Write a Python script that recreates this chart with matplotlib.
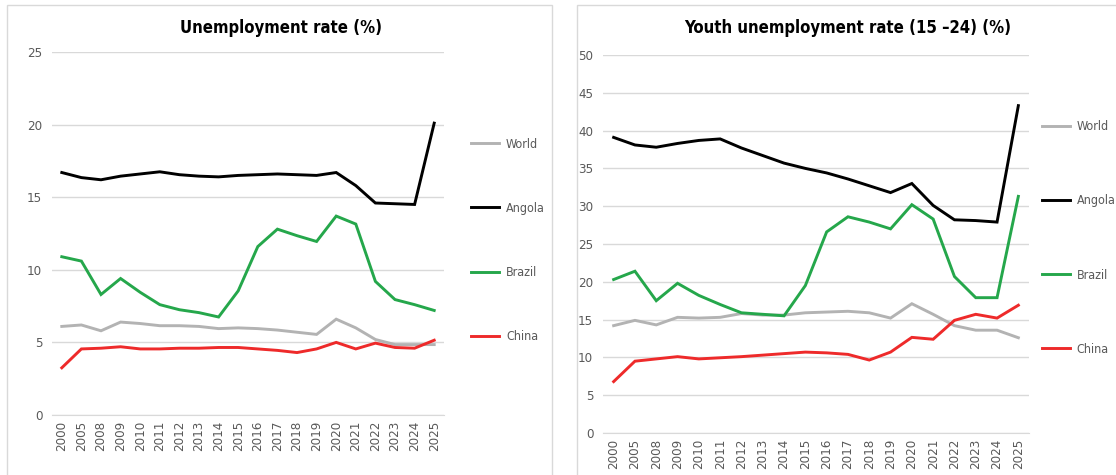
import matplotlib
matplotlib.use("Agg")
import matplotlib.pyplot as plt
from matplotlib.patches import Rectangle

plt.rcParams['font.family'] = ['DejaVu Sans']
plt.rcParams['font.stretch'] = 'condensed'

years = ['2000', '2005', '2008', '2009', '2010', '2011', '2012', '2013', '2014', '2015',
         '2016', '2017', '2018', '2019', '2020', '2021', '2022', '2023', '2024', '2025']

# Unemployment rate (%)
world = [6.1, 6.2, 5.8, 6.4, 6.3, 6.15, 6.15, 6.1, 5.95, 6.0,
         5.95, 5.85, 5.7, 5.55, 6.6, 6.0, 5.2, 4.85, 4.85, 4.85]
angola = [16.7, 16.35, 16.2, 16.45, 16.6, 16.75, 16.55, 16.45, 16.4, 16.5,
          16.55, 16.6, 16.55, 16.5, 16.7, 15.8, 14.6, 14.55, 14.5, 20.1]
brazil = [10.9, 10.6, 8.3, 9.4, 8.45, 7.6, 7.25, 7.05, 6.75, 8.55,
          11.6, 12.8, 12.35, 11.95, 13.7, 13.15, 9.2, 7.95, 7.6, 7.2]
china = [3.25, 4.55, 4.6, 4.7, 4.55, 4.55, 4.6, 4.6, 4.65, 4.65,
         4.55, 4.45, 4.3, 4.55, 5.0, 4.55, 4.95, 4.65, 4.6, 5.15]

# Youth unemployment rate (15-24) (%)
world_y = [14.2, 14.9, 14.3, 15.3, 15.2, 15.3, 15.8, 15.6, 15.6, 15.9,
           16.0, 16.1, 15.9, 15.2, 17.1, 15.7, 14.2, 13.6, 13.6, 12.6]
angola_y = [39.1, 38.1, 37.8, 38.3, 38.7, 38.9, 37.7, 36.7, 35.7, 35.0,
            34.4, 33.6, 32.7, 31.8, 33.0, 30.1, 28.2, 28.1, 27.9, 43.3]
brazil_y = [20.3, 21.4, 17.5, 19.8, 18.2, 17.0, 15.9, 15.7, 15.5, 19.5,
            26.6, 28.6, 27.9, 27.0, 30.2, 28.3, 20.7, 17.9, 17.9, 31.3]
china_y = [6.8, 9.5, 9.8, 10.1, 9.8, 9.95, 10.1, 10.3, 10.5, 10.7,
           10.6, 10.4, 9.65, 10.7, 12.65, 12.4, 14.9, 15.7, 15.2, 16.9]

names = ['World', 'Angola', 'Brazil', 'China']
colors = ['#b3b3b3', '#000000', '#25a74b', '#ee2a2a']

W, H = 1116, 475
fig = plt.figure(figsize=(W / 100, H / 100), dpi=100)

# cadres des deux panneaux
fig.patches.append(Rectangle((7 / W, -0.01), 545 / W, 1 - 5 / H + 0.01, transform=fig.transFigure,
                             fill=False, edgecolor='#d9d9d9', linewidth=1))
fig.patches.append(Rectangle((577 / W, -0.01), 560 / W, 1 - 5 / H + 0.01, transform=fig.transFigure,
                             fill=False, edgecolor='#d9d9d9', linewidth=1))


def panel(rect, series, ymax, title, title_x, leg_anchor, spacing):
    ax = fig.add_axes(rect)
    x = range(len(years))
    handles = []
    for vals, c in zip(series, colors):
        h, = ax.plot(x, vals, color=c, lw=2.1, solid_joinstyle='miter')
        handles.append(h)
    ax.set_xlim(-0.5, len(years) - 0.5)
    ax.set_ylim(0, ymax)
    ax.set_yticks(range(0, ymax + 1, 5))
    ax.set_xticks(list(x))
    ax.set_xticklabels(years, rotation=90)
    ax.tick_params(axis='both', length=0, labelsize=9.5, labelcolor='#595959')
    ax.tick_params(axis='y', pad=7)
    ax.tick_params(axis='x', pad=4)
    ax.grid(axis='y', color='#d9d9d9', lw=1)
    ax.set_axisbelow(True)
    for s in ['top', 'right', 'left']:
        ax.spines[s].set_visible(False)
    ax.spines['bottom'].set_color('#d9d9d9')
    ax.legend(handles, names, loc='center left', bbox_to_anchor=leg_anchor, frameon=False,
              fontsize=9, labelcolor='#595959', handlelength=2.25, handletextpad=0.55,
              labelspacing=spacing, borderpad=0, borderaxespad=0)
    fig.text(title_x, 1 - 28 / H, title, ha='center', va='center', fontsize=12,
             fontweight='bold', color='#000000')
    return ax


panel([52 / W, 1 - 415 / H, 392 / W, 363 / H], [world, angola, brazil, china], 25,
      'Unemployment rate (%)', 281 / W, (1.069, 0.481), 4.1)
panel([603 / W, 1 - 433 / H, 426 / W, 378 / H], [world_y, angola_y, brazil_y, china_y], 50,
      'Youth unemployment rate (15 \u201324) (%)', 848 / W, (1.03, 0.516), 4.9)

fig.savefig('out.png', dpi=100)
